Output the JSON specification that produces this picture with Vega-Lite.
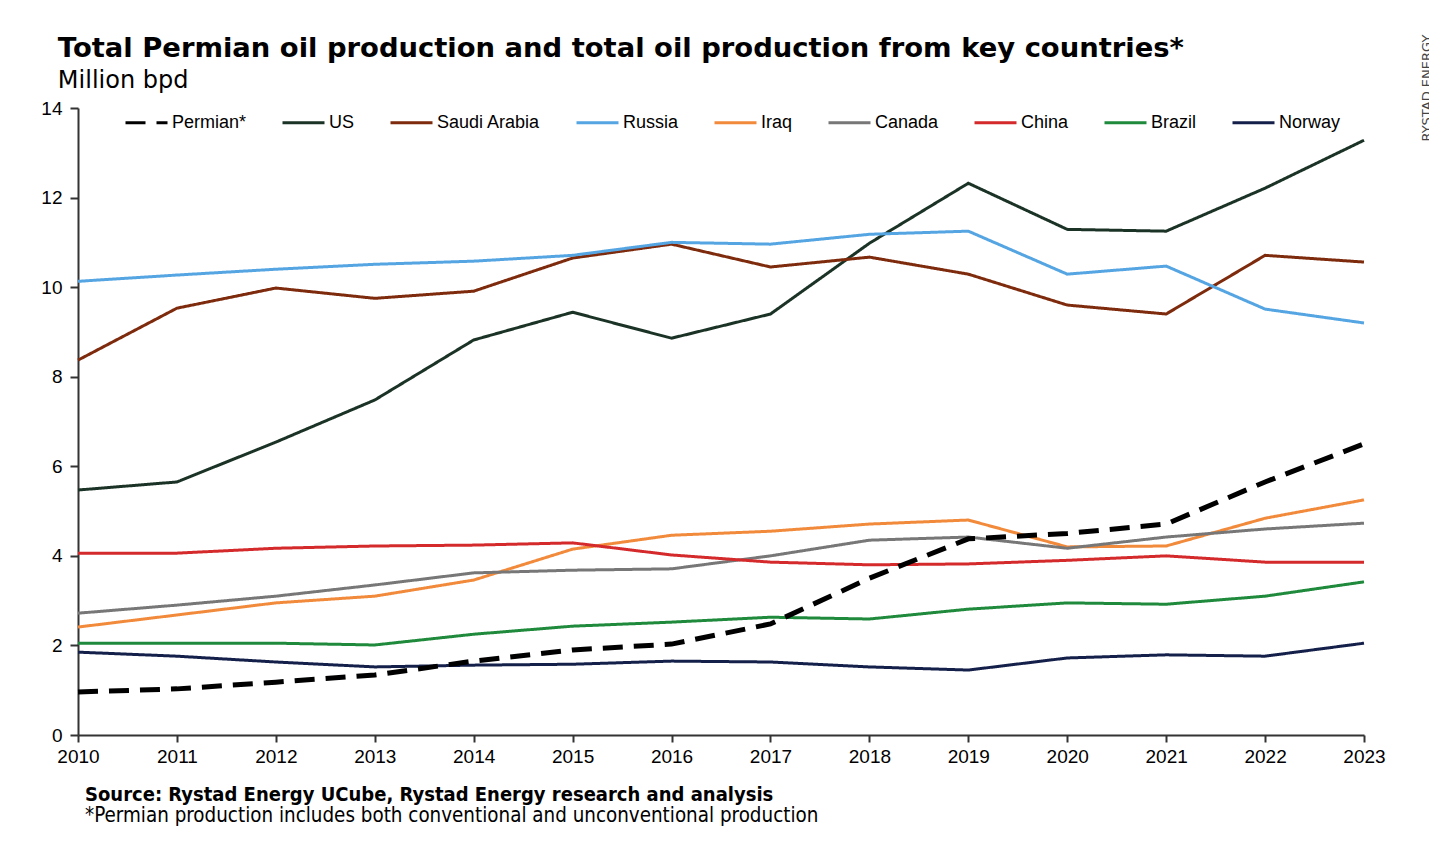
{
  "$schema": "https://vega.github.io/schema/vega-lite/v6.json",
  "padding": {"left": 40, "top": 34, "right": 0, "bottom": 0},
  "background": "white",
  "title": {
    "text": "RYSTAD ENERGY",
    "orient": "right",
    "anchor": "start",
    "angle": 270,
    "align": "right",
    "baseline": "top",
    "offset": 23,
    "font": "DejaVu Sans",
    "fontSize": 13,
    "fontWeight": "normal",
    "color": "#444444"
  },
  "datasets": {
    "prod": [
      {"year": 2010, "series": "Permian*", "value": 0.96},
      {"year": 2011, "series": "Permian*", "value": 1.03},
      {"year": 2012, "series": "Permian*", "value": 1.18},
      {"year": 2013, "series": "Permian*", "value": 1.34},
      {"year": 2014, "series": "Permian*", "value": 1.65},
      {"year": 2015, "series": "Permian*", "value": 1.90},
      {"year": 2016, "series": "Permian*", "value": 2.03},
      {"year": 2017, "series": "Permian*", "value": 2.48},
      {"year": 2018, "series": "Permian*", "value": 3.50},
      {"year": 2019, "series": "Permian*", "value": 4.38},
      {"year": 2020, "series": "Permian*", "value": 4.50},
      {"year": 2021, "series": "Permian*", "value": 4.71},
      {"year": 2022, "series": "Permian*", "value": 5.65},
      {"year": 2023, "series": "Permian*", "value": 6.50},
      {"year": 2010, "series": "US", "value": 5.47},
      {"year": 2011, "series": "US", "value": 5.65},
      {"year": 2012, "series": "US", "value": 6.54},
      {"year": 2013, "series": "US", "value": 7.48},
      {"year": 2014, "series": "US", "value": 8.82},
      {"year": 2015, "series": "US", "value": 9.44},
      {"year": 2016, "series": "US", "value": 8.86},
      {"year": 2017, "series": "US", "value": 9.40},
      {"year": 2018, "series": "US", "value": 10.98},
      {"year": 2019, "series": "US", "value": 12.32},
      {"year": 2020, "series": "US", "value": 11.29},
      {"year": 2021, "series": "US", "value": 11.25},
      {"year": 2022, "series": "US", "value": 12.21},
      {"year": 2023, "series": "US", "value": 13.28},
      {"year": 2010, "series": "Saudi Arabia", "value": 8.37},
      {"year": 2011, "series": "Saudi Arabia", "value": 9.53},
      {"year": 2012, "series": "Saudi Arabia", "value": 9.98},
      {"year": 2013, "series": "Saudi Arabia", "value": 9.75},
      {"year": 2014, "series": "Saudi Arabia", "value": 9.91},
      {"year": 2015, "series": "Saudi Arabia", "value": 10.65},
      {"year": 2016, "series": "Saudi Arabia", "value": 10.96},
      {"year": 2017, "series": "Saudi Arabia", "value": 10.45},
      {"year": 2018, "series": "Saudi Arabia", "value": 10.67},
      {"year": 2019, "series": "Saudi Arabia", "value": 10.29},
      {"year": 2020, "series": "Saudi Arabia", "value": 9.60},
      {"year": 2021, "series": "Saudi Arabia", "value": 9.40},
      {"year": 2022, "series": "Saudi Arabia", "value": 10.71},
      {"year": 2023, "series": "Saudi Arabia", "value": 10.56},
      {"year": 2010, "series": "Russia", "value": 10.13},
      {"year": 2011, "series": "Russia", "value": 10.27},
      {"year": 2012, "series": "Russia", "value": 10.40},
      {"year": 2013, "series": "Russia", "value": 10.51},
      {"year": 2014, "series": "Russia", "value": 10.58},
      {"year": 2015, "series": "Russia", "value": 10.71},
      {"year": 2016, "series": "Russia", "value": 11.00},
      {"year": 2017, "series": "Russia", "value": 10.96},
      {"year": 2018, "series": "Russia", "value": 11.18},
      {"year": 2019, "series": "Russia", "value": 11.25},
      {"year": 2020, "series": "Russia", "value": 10.29},
      {"year": 2021, "series": "Russia", "value": 10.47},
      {"year": 2022, "series": "Russia", "value": 9.51},
      {"year": 2023, "series": "Russia", "value": 9.20},
      {"year": 2010, "series": "Iraq", "value": 2.41},
      {"year": 2011, "series": "Iraq", "value": 2.68},
      {"year": 2012, "series": "Iraq", "value": 2.95},
      {"year": 2013, "series": "Iraq", "value": 3.10},
      {"year": 2014, "series": "Iraq", "value": 3.46},
      {"year": 2015, "series": "Iraq", "value": 4.15},
      {"year": 2016, "series": "Iraq", "value": 4.46},
      {"year": 2017, "series": "Iraq", "value": 4.55},
      {"year": 2018, "series": "Iraq", "value": 4.71},
      {"year": 2019, "series": "Iraq", "value": 4.80},
      {"year": 2020, "series": "Iraq", "value": 4.20},
      {"year": 2021, "series": "Iraq", "value": 4.22},
      {"year": 2022, "series": "Iraq", "value": 4.84},
      {"year": 2023, "series": "Iraq", "value": 5.25},
      {"year": 2010, "series": "Canada", "value": 2.72},
      {"year": 2011, "series": "Canada", "value": 2.90},
      {"year": 2012, "series": "Canada", "value": 3.10},
      {"year": 2013, "series": "Canada", "value": 3.35},
      {"year": 2014, "series": "Canada", "value": 3.62},
      {"year": 2015, "series": "Canada", "value": 3.68},
      {"year": 2016, "series": "Canada", "value": 3.71},
      {"year": 2017, "series": "Canada", "value": 4.00},
      {"year": 2018, "series": "Canada", "value": 4.35},
      {"year": 2019, "series": "Canada", "value": 4.42},
      {"year": 2020, "series": "Canada", "value": 4.17},
      {"year": 2021, "series": "Canada", "value": 4.42},
      {"year": 2022, "series": "Canada", "value": 4.60},
      {"year": 2023, "series": "Canada", "value": 4.73},
      {"year": 2010, "series": "China", "value": 4.06},
      {"year": 2011, "series": "China", "value": 4.06},
      {"year": 2012, "series": "China", "value": 4.17},
      {"year": 2013, "series": "China", "value": 4.22},
      {"year": 2014, "series": "China", "value": 4.24},
      {"year": 2015, "series": "China", "value": 4.29},
      {"year": 2016, "series": "China", "value": 4.02},
      {"year": 2017, "series": "China", "value": 3.86},
      {"year": 2018, "series": "China", "value": 3.80},
      {"year": 2019, "series": "China", "value": 3.82},
      {"year": 2020, "series": "China", "value": 3.90},
      {"year": 2021, "series": "China", "value": 4.00},
      {"year": 2022, "series": "China", "value": 3.86},
      {"year": 2023, "series": "China", "value": 3.86},
      {"year": 2010, "series": "Brazil", "value": 2.05},
      {"year": 2011, "series": "Brazil", "value": 2.05},
      {"year": 2012, "series": "Brazil", "value": 2.05},
      {"year": 2013, "series": "Brazil", "value": 2.01},
      {"year": 2014, "series": "Brazil", "value": 2.25},
      {"year": 2015, "series": "Brazil", "value": 2.43},
      {"year": 2016, "series": "Brazil", "value": 2.52},
      {"year": 2017, "series": "Brazil", "value": 2.63},
      {"year": 2018, "series": "Brazil", "value": 2.59},
      {"year": 2019, "series": "Brazil", "value": 2.81},
      {"year": 2020, "series": "Brazil", "value": 2.95},
      {"year": 2021, "series": "Brazil", "value": 2.92},
      {"year": 2022, "series": "Brazil", "value": 3.10},
      {"year": 2023, "series": "Brazil", "value": 3.42},
      {"year": 2010, "series": "Norway", "value": 1.85},
      {"year": 2011, "series": "Norway", "value": 1.76},
      {"year": 2012, "series": "Norway", "value": 1.63},
      {"year": 2013, "series": "Norway", "value": 1.52},
      {"year": 2014, "series": "Norway", "value": 1.56},
      {"year": 2015, "series": "Norway", "value": 1.58},
      {"year": 2016, "series": "Norway", "value": 1.65},
      {"year": 2017, "series": "Norway", "value": 1.63},
      {"year": 2018, "series": "Norway", "value": 1.52},
      {"year": 2019, "series": "Norway", "value": 1.45},
      {"year": 2020, "series": "Norway", "value": 1.72},
      {"year": 2021, "series": "Norway", "value": 1.79},
      {"year": 2022, "series": "Norway", "value": 1.76},
      {"year": 2023, "series": "Norway", "value": 2.05}
    ],
    "notes": [
      {"line": 1, "text": "Source: Rystad Energy UCube, Rystad Energy research and analysis"},
      {"line": 2, "text": "*Permian production includes both conventional and unconventional production"}
    ]
  },
  "vconcat": [
    {
      "width": 1286,
      "height": 627,
      "title": {
        "text": "Total Permian oil production and total oil production from key countries*",
        "subtitle": "Million bpd",
        "anchor": "start",
        "dx": 17,
        "font": "DejaVu Sans",
        "fontWeight": "bold",
        "fontSize": 27.4,
        "color": "#000000",
        "subtitleFont": "DejaVu Sans",
        "subtitleFontSize": 24,
        "subtitleColor": "#000000",
        "subtitlePadding": 7,
        "offset": 6
      },
      "data": {"name": "prod"},
      "encoding": {
        "x": {
          "field": "year",
          "type": "quantitative",
          "scale": {"domain": [2010, 2023], "nice": false, "zero": false},
          "axis": {
            "values": [2010, 2011, 2012, 2013, 2014, 2015, 2016, 2017, 2018, 2019, 2020, 2021, 2022, 2023],
            "format": "d",
            "title": null,
            "grid": false,
            "labelFont": "Liberation Sans",
            "labelFontSize": 19,
            "labelColor": "#000000",
            "labelPadding": 5,
            "labelOverlap": false,
            "labelFlush": false,
            "domainColor": "#333333",
            "domainWidth": 2,
            "tickColor": "#333333",
            "tickWidth": 2,
            "tickSize": 7
          }
        },
        "y": {
          "field": "value",
          "type": "quantitative",
          "scale": {"domain": [0, 14], "nice": false},
          "axis": {
            "values": [0, 2, 4, 6, 8, 10, 12, 14],
            "title": null,
            "grid": false,
            "labelFont": "Liberation Sans",
            "labelFontSize": 19,
            "labelColor": "#000000",
            "labelPadding": 8,
            "labelFlush": false,
            "domainColor": "#333333",
            "domainWidth": 2,
            "tickColor": "#333333",
            "tickWidth": 2,
            "tickSize": 8
          }
        },
        "color": {
          "field": "series",
          "type": "nominal",
          "scale": {
            "domain": ["Permian*", "US", "Saudi Arabia", "Russia", "Iraq", "Canada", "China", "Brazil", "Norway"],
            "range": ["#000000", "#1b3326", "#7e2a0c", "#55a5e3", "#f28a3c", "#777777", "#d42a2c", "#1f8a3c", "#14204a"]
          },
          "legend": {
            "title": null,
            "orient": "none",
            "legendX": 46,
            "legendY": -8,
            "direction": "horizontal",
            "labelFont": "Liberation Sans",
            "labelFontSize": 18,
            "labelColor": "#000000",
            "labelOffset": 3,
            "symbolType": "stroke",
            "symbolSize": 1764,
            "symbolStrokeWidth": 3,
            "columnPadding": 29
          }
        },
        "strokeDash": {
          "field": "series",
          "type": "nominal",
          "scale": {
            "domain": ["Permian*", "US", "Saudi Arabia", "Russia", "Iraq", "Canada", "China", "Brazil", "Norway"],
            "range": [[20, 11], [1, 0], [1, 0], [1, 0], [1, 0], [1, 0], [1, 0], [1, 0], [1, 0]]
          },
          "legend": {
            "title": null,
            "orient": "none",
            "legendX": 46,
            "legendY": -8,
            "direction": "horizontal",
            "labelFont": "Liberation Sans",
            "labelFontSize": 18,
            "labelColor": "#000000",
            "labelOffset": 3,
            "symbolType": "stroke",
            "symbolSize": 1764,
            "symbolStrokeWidth": 3,
            "columnPadding": 29
          }
        }
      },
      "layer": [
        {
          "transform": [{"filter": "datum.series !== 'Permian*'"}],
          "mark": {"type": "line", "strokeWidth": 3}
        },
        {
          "transform": [{"filter": "datum.series === 'Permian*'"}],
          "mark": {"type": "line", "strokeWidth": 5}
        }
      ]
    },
    {
      "width": 14,
      "height": 21,
      "data": {"name": "notes"},
      "encoding": {
        "y": {"field": "line", "type": "ordinal", "scale": {"type": "point", "padding": 0}, "axis": null},
        "text": {"field": "text", "type": "nominal"}
      },
      "layer": [
        {
          "transform": [{"filter": "datum.line === 1"}],
          "mark": {"type": "text", "align": "left", "baseline": "middle", "font": "DejaVu Sans Condensed, DejaVu Sans", "fontSize": 20, "fontWeight": "bold", "color": "#000000"}
        },
        {
          "transform": [{"filter": "datum.line === 2"}],
          "mark": {"type": "text", "align": "left", "baseline": "middle", "font": "DejaVu Sans Condensed, DejaVu Sans", "fontSize": 20.4, "fontWeight": "normal", "color": "#000000"}
        }
      ]
    }
  ],
  "spacing": 19,
  "config": {
    "view": {"stroke": null}
  }
}
